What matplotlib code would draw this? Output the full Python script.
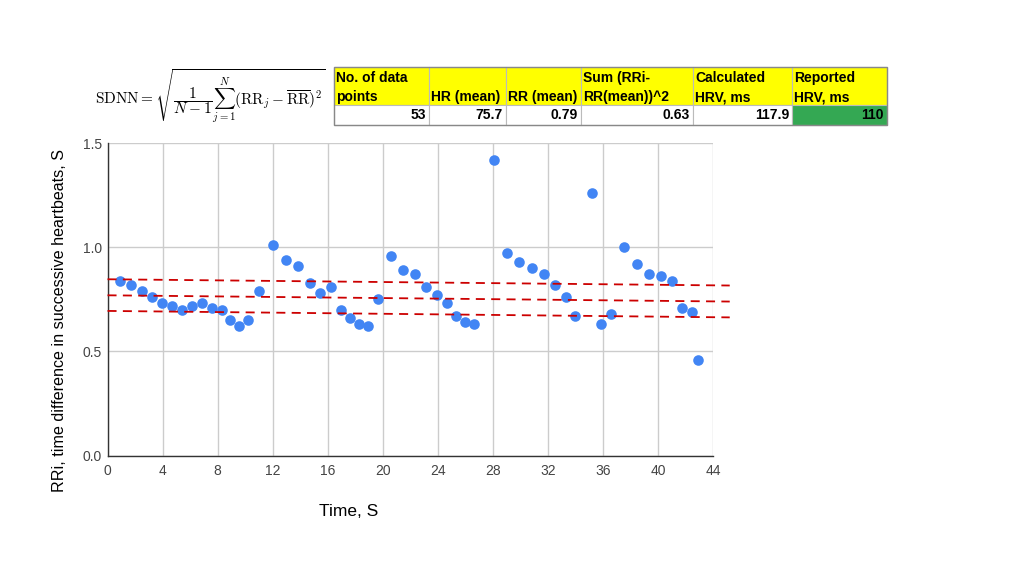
import numpy as np
import matplotlib
matplotlib.use('Agg')
import matplotlib.pyplot as plt
from matplotlib.patches import Rectangle

# RR intervals vs. time
time_s = [0.89, 1.71, 2.51, 3.23, 3.99, 4.69, 5.42, 6.14, 6.87, 7.60,
          8.30, 8.93, 9.56, 10.21, 10.99, 12.00, 12.95, 13.85, 14.69, 15.47,
          16.27, 16.96, 17.64, 18.27, 18.89, 19.65, 20.60, 21.49, 22.34, 23.16,
          23.90, 24.67, 25.35, 26.00, 26.60, 28.05, 29.00, 29.90, 30.86, 31.70,
          32.53, 33.27, 33.93, 35.22, 35.88, 36.55, 37.52, 38.46, 39.33, 40.18,
          41.03, 41.76, 42.46, 42.86]
rr_s = [0.84, 0.82, 0.79, 0.76, 0.73, 0.72, 0.70, 0.72, 0.73, 0.71,
        0.70, 0.65, 0.62, 0.65, 0.79, 1.01, 0.94, 0.91, 0.83, 0.78,
        0.81, 0.70, 0.66, 0.63, 0.62, 0.75, 0.96, 0.89, 0.87, 0.81,
        0.77, 0.73, 0.67, 0.64, 0.63, 1.42, 0.97, 0.93, 0.90, 0.87,
        0.82, 0.76, 0.67, 1.26, 0.63, 0.68, 1.00, 0.92, 0.87, 0.86,
        0.84, 0.71, 0.69, 0.46]

# dashed reference lines (start value, end value)
line_x = [0, 45.2]
band_upper = [0.846, 0.816]
band_mid = [0.769, 0.739]
band_lower = [0.694, 0.663]

# summary table
headers = [['No. of data', 'points'], ['', 'HR (mean)'], ['', 'RR (mean)'],
           ['Sum (RRi-', 'RR(mean))^2'], ['Calculated', 'HRV, ms'], ['Reported', 'HRV, ms']]
values = ['53', '75.7', '0.79', '0.63', '117.9', '110']

plt.rcParams['font.family'] = ['Liberation Sans', 'DejaVu Sans']
plt.rcParams['mathtext.fontset'] = 'cm'

fig = plt.figure(figsize=(10.24, 5.76), dpi=100)
ax = fig.add_axes([0.105, 0.2092, 0.5915, 0.5425])

ax.scatter(time_s, rr_s, s=58, color='#4285F4', zorder=3, linewidths=0)
for band in (band_upper, band_mid, band_lower):
    ax.plot(line_x, band, color='#CC0000', lw=1.3, ls=(0, (5, 3.5)), clip_on=False, zorder=4)

ax.set_xlim(0, 44)
ax.set_ylim(0, 1.5)
ax.set_xticks(np.arange(0, 45, 4))
ax.set_yticks([0, 0.5, 1.0, 1.5])
ax.set_yticklabels(['0.0', '0.5', '1.0', '1.5'])
ax.grid(True, color='#cccccc', lw=1)
ax.set_axisbelow(True)
ax.tick_params(length=0, labelsize=10, colors='#444444')
ax.tick_params(axis='x', pad=6)
ax.tick_params(axis='y', pad=4)
for side in ('top', 'right'):
    ax.spines[side].set_visible(False)
for side in ('left', 'bottom'):
    ax.spines[side].set_color('#333333')
    ax.spines[side].set_linewidth(1)

fig.text(349 / 1024, 1 - 511 / 576, 'Time, S', fontsize=12.5, ha='center', va='center')
fig.text(60 / 1024, 1 - 321 / 576, 'RRi, time difference in successive heartbeats, S',
         fontsize=11.6, rotation=90, ha='center', va='center')

# overlay in pixel coordinates for the formula and table
ov = fig.add_axes([0, 0, 1, 1])
ov.set_xlim(0, 1024)
ov.set_ylim(576, 0)
ov.axis('off')

ov.text(95, 96, r'$\mathrm{SDNN} = \sqrt{\dfrac{1}{N-1}\sum_{j=1}^{N}(\mathrm{RR}_j - \overline{\mathrm{RR}})^2}$',
        fontsize=11, ha='left', va='center')

col_edges = [334, 429, 506, 581, 693, 792, 887]
top, mid, bot = 67, 105, 125
for i in range(6):
    x0, x1 = col_edges[i], col_edges[i + 1]
    ov.add_patch(Rectangle((x0, top), x1 - x0, mid - top, facecolor='#FFFF00',
                           edgecolor='#bbbbbb', lw=0.8))
    fc = '#34A853' if i == 5 else 'white'
    ov.add_patch(Rectangle((x0, mid), x1 - x0, bot - mid, facecolor=fc,
                           edgecolor='#bbbbbb', lw=0.8))
    l1, l2 = headers[i]
    if l1:
        ov.text(x0 + 2, 78, l1, fontsize=10, fontweight='bold', ha='left', va='center')
    ov.text(x0 + 2, 97, l2, fontsize=10, fontweight='bold', ha='left', va='center')
    ov.text(x1 - 3, 115, values[i], fontsize=10, fontweight='bold', ha='right', va='center')
ov.add_patch(Rectangle((334, top), 887 - 334, bot - top, fill=False, edgecolor='#888888', lw=1))

fig.savefig('out.png', dpi=100)
